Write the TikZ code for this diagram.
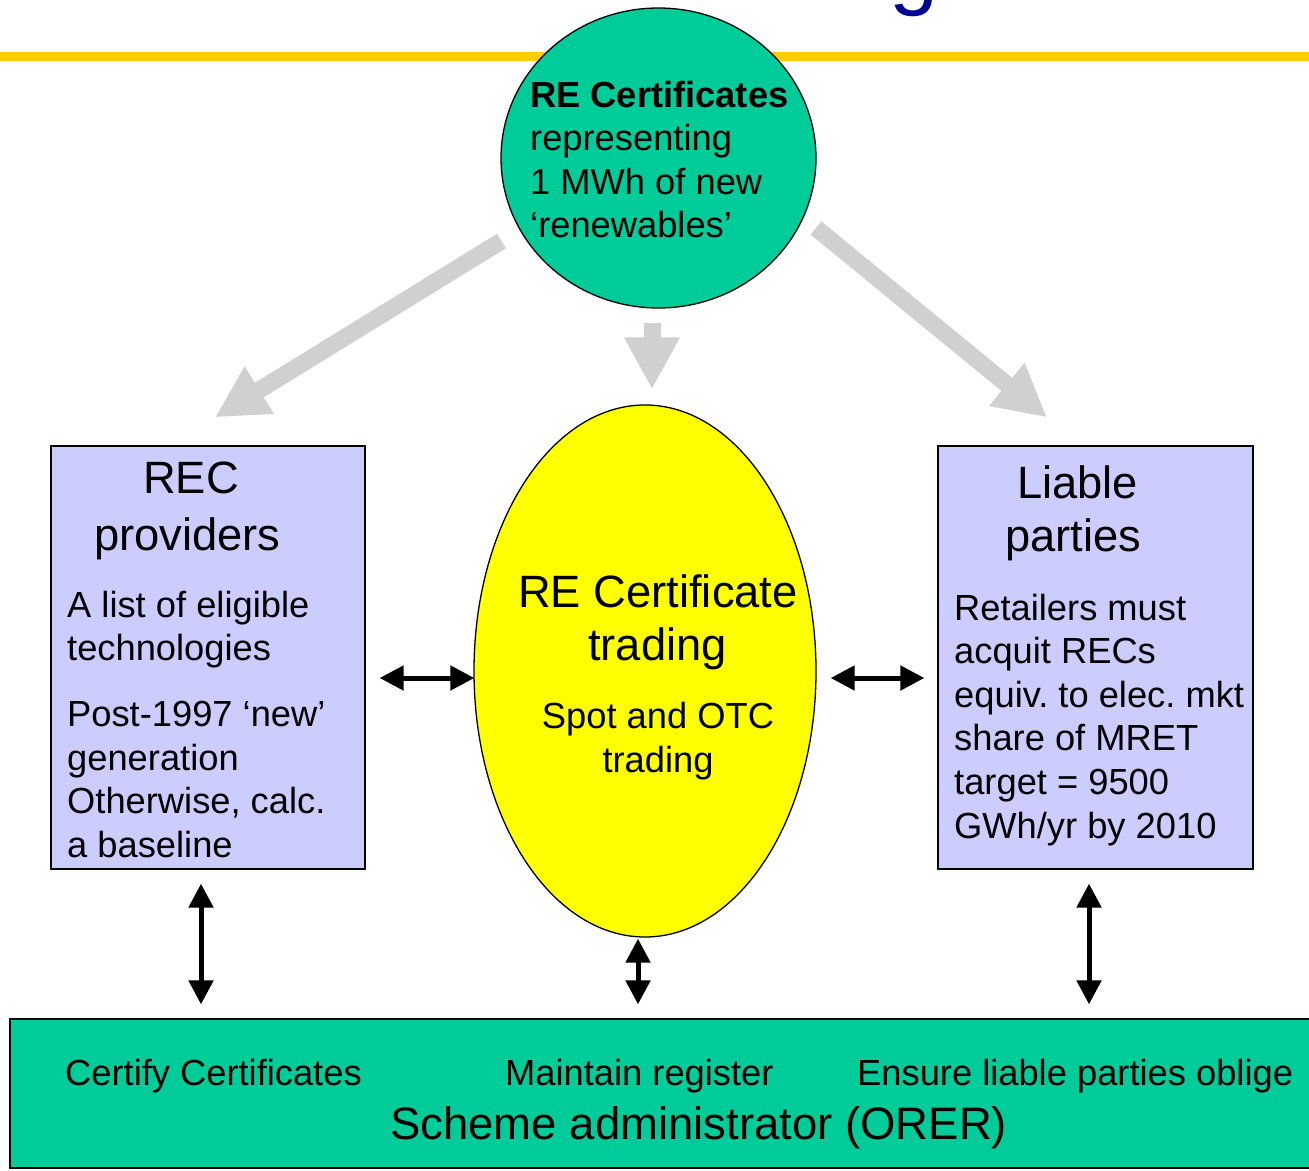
\documentclass[tikz,border=0pt]{standalone}
\usepackage{fontspec}
\setmainfont{Liberation Sans}
\usetikzlibrary{shapes.geometric,arrows.meta,calc}
\definecolor{sea}{HTML}{00CC99}
\definecolor{lav}{HTML}{CCCCFF}
\definecolor{gold}{HTML}{FFCC00}
\definecolor{navy}{HTML}{000099}
\definecolor{lgray}{HTML}{D0D0D0}
\definecolor{yel}{HTML}{FFFF00}
\frenchspacing
\begin{document}
\begin{tikzpicture}[x=1pt,y=-1pt,
  shapebox/.style={draw=black, line width=1.3pt, inner sep=0pt},
  tl/.style={font=\fontsize{36.3}{43}\selectfont, inner sep=0pt, anchor=base west},
  tc/.style={font=\fontsize{36.3}{43}\selectfont, inner sep=0pt, anchor=base},
  tbig/.style={font=\fontsize{45.3}{53}\selectfont, inner sep=0pt, anchor=base},
  tbigl/.style={font=\fontsize{45.5}{53}\selectfont, inner sep=0pt, anchor=base west},
  fat/.style={draw=lgray, line width=17pt, -{Triangle[width=52pt,length=52pt]}},
  dbl/.style={draw=black, line width=5pt, {Triangle[width=24pt,length=24pt]}-{Triangle[width=24pt,length=24pt]}}
]
\useasboundingbox (0,0) rectangle (1309,1170);
\begin{scope}
\clip (0,0) rectangle (1309,1170);
% title fragment and rule
\node[font=\fontsize{88}{100}\selectfont, text=navy, inner sep=0pt, anchor=base] (title) at (914,-2) {g};
\draw[gold, line width=9pt] (0,56.5) -- (1309,56.5);

% shapes
\node[shapebox, ellipse, fill=sea, minimum width=315pt, minimum height=300pt] (circ) at (658.5,158) {};
\node[shapebox, ellipse, fill=yel, minimum width=342pt, minimum height=532pt] (ell) at (645,671) {};
\node[shapebox, rectangle, fill=lav, minimum width=314pt, minimum height=423pt] (lbox) at (208,657.5) {};
\node[shapebox, rectangle, fill=lav, minimum width=315pt, minimum height=423pt] (rbox) at (1095.5,657.5) {};
\node[shapebox, rectangle, fill=sea, minimum width=1320pt, minimum height=149pt] (admin) at (670,1093.5) {};

% grey block arrows
\draw[fat] ([shift={(-157,83)}]circ.center) -- ([shift={(7,-28)}]lbox.north);
\draw[fat] ([shift={(-6.5,165)}]circ.center) -- ([shift={(7,-15)}]ell.north);
\draw[fat] ([shift={(157.5,70)}]circ.center) -- ([shift={(-48.5,-28)}]rbox.north);

% black double arrows
\draw[dbl] ([shift={(14,20.5)}]lbox.east) -- ([shift={(1,7)}]ell.west);
\draw[dbl] ([shift={(14,7)}]ell.east) -- ([shift={(-13,20.5)}]rbox.west);
\draw[dbl] ([shift={(-7,14)}]lbox.south) -- ($(lbox.south |- admin.north)+(-7,-14)$);
\draw[dbl] ([shift={(-7,1)}]ell.south) -- ($(ell.south |- admin.north)+(-7,-14)$);
\draw[dbl] ([shift={(-6.5,14)}]rbox.south) -- ($(rbox.south |- admin.north)+(-6.5,-14)$);

% circle text
\node[tl] (c1) at (530,107) {\bfseries RE Certificates};
\node[tl] (c2) at (530,150.5) {representing};
\node[tl] (c3) at (530,194) {1 MWh of new};
\node[tl] (c4) at (530,237.5) {‘renewables’};

% left box text
\node[tbig] (l1) at (191,493) {REC};
\node[tbig] (l2) at (187.5,550) {providers};
\node[tl] (l3) at (67,617) {A list of eligible};
\node[tl] (l4) at (67,660) {technologies};
\node[tl] (l5) at (67,726.5) {Post-1997 ‘new’};
\node[tl] (l6) at (67,770) {generation};
\node[tl] (l7) at (67,813.5) {Otherwise, calc.};
\node[tl] (l8) at (67,857.5) {a baseline};

% ellipse text
\node[tbig] (e1) at (658,607) {RE Certificate};
\node[tbig] (e2) at (657.5,660) {trading};
\node[tc] (e3) at (658,728) {Spot and OTC};
\node[tc] (e4) at (658,772) {trading};

% right box text
\node[tbig] (r1) at (1077.5,498) {Liable};
\node[tbig] (r2) at (1073.5,551.5) {parties};
\node[tl] (r3) at (954,620) {Retailers must};
\node[tl] (r4) at (954,663.5) {acquit RECs};
\node[tl] (r5) at (954,707) {equiv. to elec. mkt};
\node[tl] (r6) at (954,750.5) {share of MRET};
\node[tl] (r7) at (954,794) {target = 9500};
\node[tl] (r8) at (954,838) {GWh/yr by 2010};

% admin text
\node[tl] (a1) at (65,1085) {Certify Certificates};
\node[tl] (a2) at (505,1085) {Maintain register};
\node[tl] (a3) at (857,1085) {Ensure liable parties oblige};
\node[tbigl] (a4) at (390,1139) {Scheme administrator (ORER)};
\end{scope}
\end{tikzpicture}
\end{document}
